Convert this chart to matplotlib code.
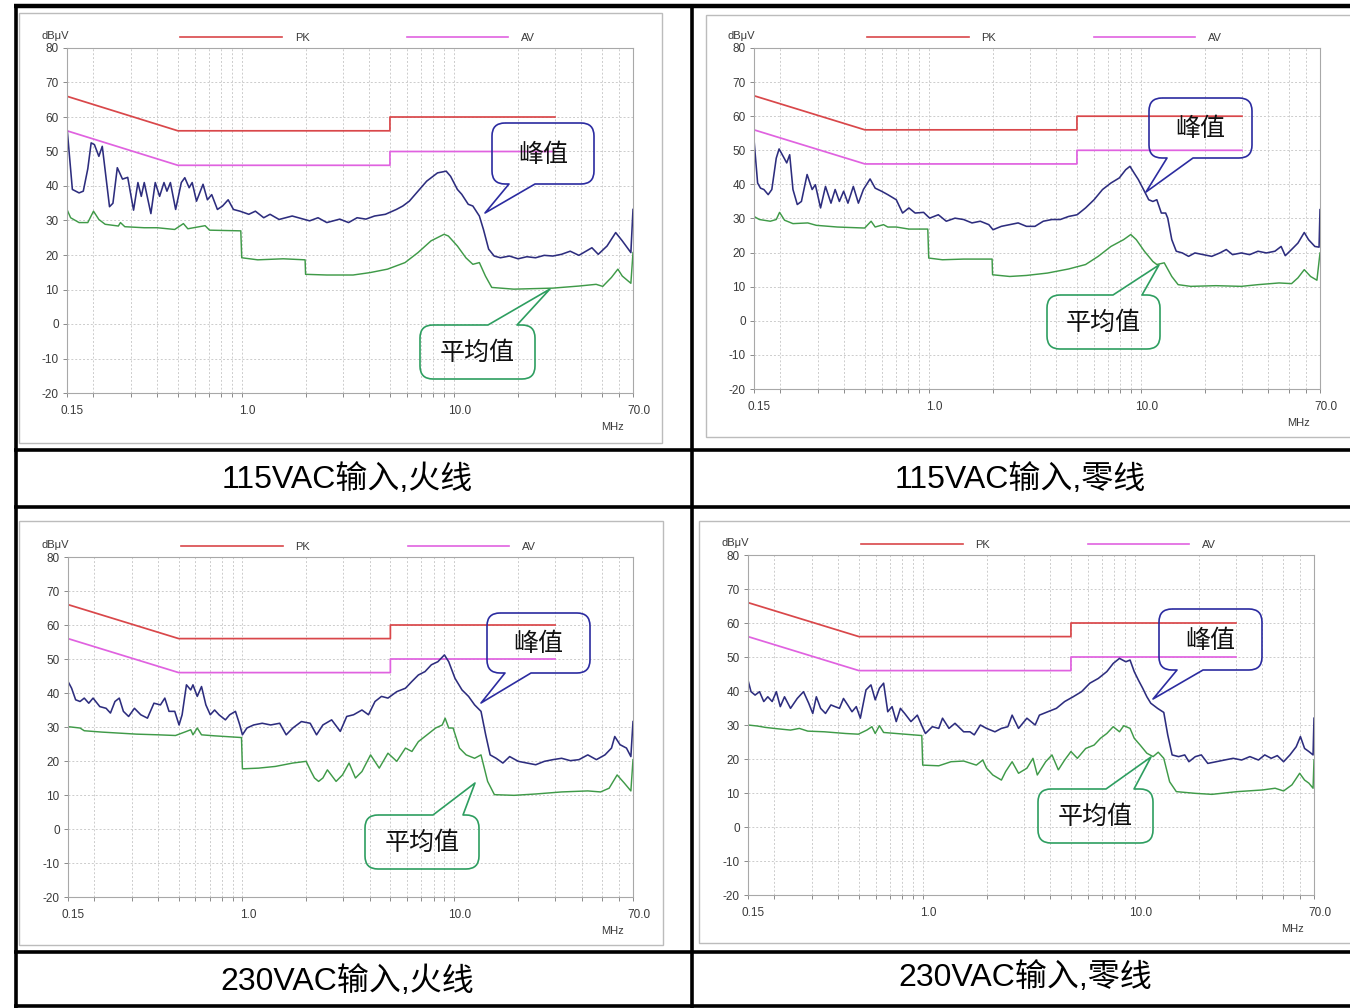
import matplotlib
matplotlib.use('Agg')
import matplotlib.pyplot as plt
from matplotlib.path import Path
from matplotlib.patches import PathPatch, Rectangle
from matplotlib.ticker import FixedLocator, FixedFormatter, NullFormatter
import matplotlib.transforms as mtransforms

plt.rcParams['font.family'] = ['Liberation Sans', 'Noto Sans CJK SC', 'DejaVu Sans']
plt.rcParams['axes.unicode_minus'] = False

# --- limit lines (CISPR class B) ---
limit_freq = [0.15, 0.5, 5.0, 5.0, 30.0]
pk_limit = [66, 56, 56, 60, 60]
av_limit = [56, 46, 46, 50, 50]

y_ticks = [-20, -10, 0, 10, 20, 30, 40, 50, 60, 70, 80]
x_major = [0.15, 1.0, 10.0, 70.0]
x_major_labels = ['0.15', '1.0', '10.0', '70.0']
x_minor = [0.2, 0.3, 0.4, 0.5, 0.6, 0.7, 0.8, 0.9, 2, 3, 4, 5, 6, 7, 8, 9,
           20, 30, 40, 50, 60]

captions = ['115VAC输入,火线', '115VAC输入,零线', '230VAC输入,火线', '230VAC输入,零线']

# --- 115VAC line ---
l115_pk_f = [0.150, 0.159, 0.171, 0.179, 0.188, 0.195, 0.202, 0.212, 0.220, 0.238,
             0.247, 0.259, 0.274, 0.290, 0.309, 0.324, 0.336, 0.347, 0.373, 0.391,
             0.410, 0.430, 0.444, 0.461, 0.488, 0.519, 0.539, 0.565, 0.584, 0.612,
             0.657, 0.689, 0.722, 0.768, 0.812, 0.863, 0.914, 0.981, 1.08, 1.16,
             1.27, 1.36, 1.50, 1.73, 2.09, 2.29, 2.52, 2.90, 3.19, 3.50,
             3.85, 4.23, 4.76, 5.36, 5.75, 6.17, 6.78, 7.45, 8.38, 9.21,
             9.66, 10.4, 10.9, 11.7, 12.3, 13.2, 13.8, 14.6, 15.5, 16.6,
             18.3, 20.1, 22.1, 24.3, 26.7, 29.3, 32.2, 35.4, 38.9, 44.8,
             48.0, 52.8, 58.0, 62.3, 68.4, 70.0]
l115_pk_db = [57, 39, 38, 38.5, 45, 52.5, 52, 48.6, 51.5, 34,
              35, 45.3, 42, 42.5, 33, 41, 37, 41, 32, 41,
              37, 41, 38.5, 41, 33.2, 41, 42.4, 39.5, 41, 35.6,
              40.5, 36, 37.5, 33.2, 34.2, 36, 33.2, 32.7, 31.8, 32.7,
              30.8, 31.8, 30.3, 31.3, 29.9, 30.8, 29.4, 30.4, 29.4, 30.8,
              30.4, 31.3, 31.8, 33.2, 34.2, 35.6, 38.5, 41.4, 43.8, 44.3,
              42.8, 39, 37.6, 34.7, 34.2, 31.3, 27.4, 21.7, 19.7, 19.2,
              19.7, 18.9, 19.5, 19.2, 19.9, 19.7, 20.2, 21.1, 19.9, 22.1,
              20.2, 22.6, 26.5, 24.1, 20.7, 33.2]
l115_av_f = [0.150, 0.156, 0.171, 0.188, 0.200, 0.212, 0.227, 0.262, 0.268, 0.281,
             0.347, 0.400, 0.483, 0.531, 0.557, 0.672, 0.705, 0.990, 1.00, 1.19,
             1.57, 1.99, 2.00, 2.52, 3.35, 4.03, 4.87, 5.89, 6.78, 7.81,
             9.00, 9.43, 10.4, 11.4, 12.3, 13.2, 14.1, 15.1, 19.2, 29.3,
             38.9, 46.9, 50.4, 55.4, 59.4, 62.3, 68.4, 70.0]
l115_av_db = [33.2, 30.8, 29.4, 29.4, 32.7, 30.3, 28.9, 28.4, 29.4, 28.2,
              27.9, 27.9, 27.4, 29.1, 27.6, 28.5, 27.2, 27.0, 19.2, 18.6,
              18.9, 18.6, 14.4, 14.2, 14.2, 14.9, 15.9, 17.8, 20.7, 24.1,
              26.0, 25.5, 22.6, 19.2, 17.3, 17.8, 13.9, 10.6, 10.1, 10.4,
              11.0, 11.5, 10.9, 13.5, 15.9, 13.9, 11.8, 20.7]

# --- 115VAC neutral ---
n115_pk_f = [0.150, 0.156, 0.161, 0.167, 0.175, 0.182, 0.191, 0.197, 0.206, 0.214,
             0.221, 0.229, 0.240, 0.251, 0.267, 0.282, 0.292, 0.309, 0.326, 0.346,
             0.362, 0.379, 0.397, 0.416, 0.441, 0.466, 0.492, 0.529, 0.559, 0.599,
             0.641, 0.703, 0.753, 0.806, 0.863, 0.946, 1.01, 1.11, 1.21, 1.33,
             1.46, 1.60, 1.75, 1.92, 2.01, 2.20, 2.41, 2.64, 2.89, 3.17,
             3.47, 3.81, 4.17, 4.57, 5.01, 5.49, 6.02, 6.60, 7.23, 7.92,
             8.49, 8.89, 9.31, 9.74, 10.4, 10.9, 11.4, 11.9, 12.5, 13.1,
             13.4, 14.0, 14.7, 15.7, 16.8, 18.0, 19.7, 21.6, 23.6, 25.3,
             27.1, 29.8, 32.6, 35.7, 39.1, 42.9, 45.9, 48.0, 51.4, 55.1,
             59.0, 61.8, 66.2, 69.3, 70.0]
n115_pk_db = [53.1, 40.4, 38.9, 38.5, 37.0, 38.5, 47.7, 50.4, 48.2, 46.3,
              48.7, 38.5, 34.1, 35.0, 42.9, 38.5, 39.9, 33.1, 39.4, 34.5,
              38.5, 35.0, 38.0, 34.5, 39.4, 34.5, 38.5, 41.6, 38.9, 38.0,
              37.0, 35.5, 31.6, 33.1, 31.6, 31.8, 30.1, 31.1, 29.2, 30.1,
              29.7, 28.7, 29.2, 28.2, 26.7, 27.7, 28.2, 28.7, 27.7, 27.7,
              29.2, 29.7, 29.7, 30.6, 31.1, 33.1, 35.5, 38.5, 40.4, 41.9,
              44.3, 45.3, 43.3, 41.4, 38.0, 35.5, 35.0, 35.5, 31.6, 31.6,
              30.1, 23.8, 20.4, 19.9, 18.9, 19.9, 19.4, 18.9, 19.9, 20.9,
              19.4, 19.9, 19.4, 20.4, 19.9, 20.4, 21.8, 19.1, 20.9, 22.8,
              25.9, 23.8, 21.8, 21.6, 32.6]
n115_av_f = [0.150, 0.159, 0.179, 0.191, 0.198, 0.209, 0.229, 0.269, 0.295, 0.371,
             0.499, 0.535, 0.559, 0.612, 0.641, 0.703, 0.806, 0.99, 1.00, 1.16,
             1.46, 1.99, 2.00, 2.41, 2.89, 3.63, 4.57, 5.49, 6.30, 7.23,
             8.30, 8.97, 9.52, 10.4, 11.4, 11.9, 12.9, 14.0, 15.0, 17.2,
             22.6, 29.8, 35.7, 44.9, 51.4, 55.1, 59.0, 63.2, 67.7, 70.0]
n115_av_db = [30.6, 29.7, 29.2, 29.7, 31.8, 29.5, 28.5, 28.7, 28.0, 27.5,
              27.2, 29.2, 27.5, 28.2, 27.5, 27.5, 26.9, 26.9, 18.4, 17.9,
              18.1, 18.1, 13.5, 13.0, 13.3, 14.0, 15.2, 16.5, 18.9, 21.8,
              23.8, 25.3, 23.8, 20.4, 17.4, 16.5, 17.0, 13.0, 10.6, 10.1,
              10.3, 10.1, 10.6, 11.1, 10.9, 12.6, 15.0, 13.0, 11.9, 19.9]

# --- 230VAC line ---
l230_pk_f = [0.150, 0.156, 0.163, 0.171, 0.179, 0.188, 0.197, 0.212, 0.227, 0.238,
             0.250, 0.262, 0.274, 0.290, 0.309, 0.331, 0.356, 0.382, 0.410, 0.430,
             0.450, 0.479, 0.502, 0.519, 0.544, 0.570, 0.584, 0.612, 0.641, 0.672,
             0.705, 0.739, 0.775, 0.831, 0.871, 0.927, 0.972, 1.00, 1.05, 1.13,
             1.24, 1.36, 1.50, 1.61, 1.73, 1.90, 2.09, 2.24, 2.40, 2.64,
             2.90, 3.11, 3.35, 3.67, 3.94, 4.23, 4.54, 4.87, 5.36, 5.89,
             6.32, 6.78, 7.29, 7.81, 8.38, 9.00, 9.43, 10.1, 10.9, 11.7,
             12.5, 13.4, 14.1, 14.8, 15.8, 17.0, 18.3, 20.1, 22.1, 24.3,
             26.7, 29.3, 32.2, 35.4, 38.9, 42.8, 47.0, 51.6, 55.4, 57.4,
             60.8, 65.2, 68.4, 70.0]
l230_pk_db = [43.4, 41.4, 38.0, 37.5, 38.5, 37.0, 38.5, 36.0, 35.5, 34.1,
              37.5, 38.5, 34.6, 33.1, 35.5, 33.6, 32.6, 37.0, 36.5, 38.5,
              34.6, 34.6, 30.6, 33.6, 42.4, 40.9, 42.4, 39.0, 41.9, 36.5,
              33.6, 35.0, 33.6, 32.1, 33.6, 34.6, 30.6, 27.7, 29.7, 30.6,
              31.1, 30.6, 31.1, 27.7, 29.7, 31.6, 31.1, 27.7, 30.6, 32.1,
              28.7, 33.1, 33.6, 35.0, 33.6, 37.5, 39.0, 38.5, 40.4, 41.4,
              43.4, 45.3, 46.3, 48.3, 49.2, 51.2, 49.2, 44.3, 40.9, 39.0,
              36.5, 34.6, 27.7, 21.8, 20.8, 19.4, 21.3, 19.9, 19.4, 18.9,
              19.9, 20.4, 20.8, 20.1, 20.4, 21.8, 20.4, 21.8, 23.8, 27.2,
              24.8, 23.8, 21.3, 31.6]
l230_av_f = [0.150, 0.171, 0.179, 0.217, 0.262, 0.316, 0.400, 0.483, 0.544, 0.570,
             0.584, 0.612, 0.641, 0.739, 0.99, 1.00, 1.19, 1.43, 1.73, 2.00,
             2.11, 2.19, 2.29, 2.40, 2.52, 2.77, 2.97, 3.19, 3.42, 3.67,
             4.03, 4.43, 4.87, 5.36, 5.89, 6.32, 6.78, 7.45, 8.18, 8.79,
             9.07, 9.43, 9.89, 10.6, 11.4, 12.5, 13.4, 14.4, 15.5, 19.2,
             24.3, 32.2, 42.8, 49.2, 54.0, 58.9, 63.7, 68.4, 70.0]
l230_av_db = [30.1, 29.7, 28.9, 28.5, 28.2, 27.9, 27.7, 27.5, 28.7, 29.2,
              27.7, 29.7, 27.7, 27.4, 26.9, 17.7, 17.9, 18.4, 19.4, 19.9,
              16.9, 15.0, 14.0, 15.0, 17.4, 14.0, 15.9, 19.4, 15.0, 16.9,
              21.8, 17.9, 22.3, 19.9, 23.8, 22.8, 25.7, 27.7, 29.7, 30.6,
              32.6, 29.7, 29.7, 23.8, 21.8, 20.8, 21.8, 14.0, 10.1, 9.9,
              10.3, 10.9, 11.2, 10.9, 12.0, 15.9, 13.5, 11.2, 20.4]

# --- 230VAC neutral ---
n230_pk_f = [0.150, 0.155, 0.162, 0.170, 0.178, 0.186, 0.195, 0.204, 0.213, 0.223,
             0.238, 0.256, 0.274, 0.290, 0.303, 0.315, 0.330, 0.348, 0.369, 0.386,
             0.405, 0.423, 0.443, 0.464, 0.486, 0.508, 0.540, 0.570, 0.597, 0.625,
             0.654, 0.684, 0.717, 0.750, 0.785, 0.822, 0.880, 0.943, 0.987, 1.03,
             1.11, 1.19, 1.24, 1.33, 1.42, 1.56, 1.67, 1.75, 1.87, 2.00,
             2.19, 2.35, 2.52, 2.64, 2.83, 3.10, 3.39, 3.55, 3.89, 4.27,
             4.67, 5.12, 5.61, 6.14, 6.73, 7.38, 7.91, 8.47, 9.07, 9.50,
             9.94, 10.4, 10.9, 11.4, 11.9, 12.8, 13.7, 14.3, 15.0, 16.1,
             17.2, 18.0, 19.3, 20.6, 22.1, 24.2, 26.5, 29.1, 31.9, 34.9,
             38.3, 41.0, 44.0, 47.0, 50.3, 53.9, 57.7, 60.4, 63.2, 66.2,
             69.3, 70.0]
n230_pk_db = [43.2, 39.8, 38.8, 39.8, 36.9, 38.3, 36.9, 39.8, 35.4, 38.3,
              34.9, 37.8, 39.8, 36.4, 33.4, 38.3, 34.9, 33.4, 35.9, 35.4,
              34.9, 37.8, 35.9, 33.9, 35.4, 32.0, 40.3, 41.8, 37.4, 40.8,
              42.3, 33.9, 35.4, 31.0, 34.9, 33.4, 31.0, 32.9, 30.0, 27.5,
              29.5, 29.0, 32.0, 29.0, 30.5, 28.0, 28.0, 27.1, 30.0, 29.0,
              28.0, 29.0, 29.5, 32.9, 29.0, 32.0, 30.0, 32.9, 33.9, 34.9,
              36.9, 38.3, 39.8, 42.3, 43.7, 45.7, 48.1, 49.6, 48.6, 49.1,
              45.7, 43.2, 40.8, 38.3, 36.4, 34.9, 33.7, 27.1, 21.2, 20.7,
              21.2, 19.2, 20.7, 21.2, 18.7, 19.2, 19.7, 20.2, 19.7, 20.7,
              19.7, 21.2, 20.2, 21.0, 19.2, 21.2, 23.6, 26.6, 23.1, 22.2,
              21.2, 32.0]
n230_av_f = [0.150, 0.166, 0.181, 0.199, 0.238, 0.262, 0.287, 0.344, 0.433, 0.497,
             0.545, 0.576, 0.597, 0.625, 0.654, 0.785, 0.99, 1.00, 1.19, 1.36,
             1.56, 1.79, 1.92, 2.00, 2.14, 2.35, 2.46, 2.64, 2.83, 3.10,
             3.31, 3.47, 3.80, 4.07, 4.36, 4.67, 5.00, 5.36, 5.87, 6.43,
             6.89, 7.38, 7.91, 8.47, 8.87, 9.50, 9.94, 10.6, 11.4, 12.2,
             12.9, 13.7, 14.6, 15.7, 19.3, 23.1, 30.4, 40.1, 45.9, 50.3,
             55.1, 59.9, 63.2, 66.2, 69.3, 70.0]
n230_av_db = [30.0, 29.7, 29.3, 29.0, 28.5, 29.0, 28.2, 28.0, 27.5, 27.3,
              28.5, 29.5, 27.5, 29.8, 27.8, 27.4, 26.9, 18.2, 18.0, 19.2,
              19.4, 18.2, 19.7, 17.3, 15.3, 13.8, 16.3, 19.2, 15.8, 17.3,
              20.2, 15.3, 19.2, 21.2, 16.8, 19.7, 22.2, 20.2, 23.1, 24.1,
              26.1, 27.5, 29.5, 28.0, 29.8, 29.0, 26.1, 24.1, 21.7, 20.7,
              22.0, 20.2, 13.3, 10.4, 9.9, 9.6, 10.4, 10.9, 11.4, 10.6,
              12.4, 15.8, 13.8, 12.9, 11.4, 19.7]

# layout in pixels (x0, y0, x1, y1), y downward
W, H = 1350, 1008
panels = [
    dict(frame=(19, 13, 662, 443), box=(67, 48, 633, 393), cap=(347, 480),
         pk=(l115_pk_f, l115_pk_db), av=(l115_av_f, l115_av_db),
         b1=((492, 123, 594, 184), (509, 535), (485, 213), 'bottom'),
         b2=((420, 325, 535, 379), (488, 517), (550, 289), 'top')),
    dict(frame=(706, 15, 1360, 437), box=(754, 48, 1320, 389), cap=(1020, 480),
         pk=(n115_pk_f, n115_pk_db), av=(n115_av_f, n115_av_db),
         b1=((1149, 98, 1252, 158), (1167, 1193), (1146, 192), 'bottom'),
         b2=((1047, 295, 1160, 349), (1113, 1142), (1159, 265), 'top')),
    dict(frame=(19, 521, 663, 945), box=(68, 557, 633, 897), cap=(347, 982),
         pk=(l230_pk_f, l230_pk_db), av=(l230_av_f, l230_av_db),
         b1=((487, 613, 590, 673), (505, 531), (481, 703), 'bottom'),
         b2=((365, 815, 479, 869), (433, 463), (475, 783), 'top')),
    dict(frame=(699, 521, 1360, 943), box=(748, 555, 1314, 895), cap=(1025, 978),
         pk=(n230_pk_f, n230_pk_db), av=(n230_av_f, n230_av_db),
         b1=((1159, 609, 1262, 670), (1177, 1203), (1153, 699), 'bottom'),
         b2=((1038, 789, 1153, 843), (1106, 1134), (1151, 757), 'top')),
]


def px_rect(x0, y0, x1, y1):
    return [x0 / W, 1 - y1 / H, (x1 - x0) / W, (y1 - y0) / H]


def bubble(ax, rect, base, tip, side, color):
    x0, y0, x1, y1 = rect
    r = 13
    v = [(x0 + r, y0)]
    c = [Path.MOVETO]
    if side == 'top':
        v += [(base[0], y0), tip, (base[1], y0)]
        c += [Path.LINETO] * 3
    v += [(x1 - r, y0), (x1, y0), (x1, y0 + r), (x1, y1 - r), (x1, y1), (x1 - r, y1)]
    c += [Path.LINETO, Path.CURVE3, Path.CURVE3, Path.LINETO, Path.CURVE3, Path.CURVE3]
    if side == 'bottom':
        v += [(base[1], y1), tip, (base[0], y1)]
        c += [Path.LINETO] * 3
    v += [(x0 + r, y1), (x0, y1), (x0, y1 - r), (x0, y0 + r), (x0, y0), (x0 + r, y0)]
    c += [Path.LINETO, Path.CURVE3, Path.CURVE3, Path.LINETO, Path.CURVE3, Path.CURVE3]
    ax.add_patch(PathPatch(Path(v, c), facecolor='none', edgecolor=color, lw=1.2,
                           joinstyle='round'))


fig = plt.figure(figsize=(W / 100, H / 100), dpi=100)
bg = fig.add_axes([0, 0, 1, 1], zorder=0)
bg.set_xlim(0, W)
bg.set_ylim(H, 0)
bg.axis('off')
top = fig.add_axes([0, 0, 1, 1], zorder=5)
top.set_xlim(0, W)
top.set_ylim(H, 0)
top.axis('off')
top.patch.set_alpha(0)

txt_col = '#3a3a3a'
shift = mtransforms.ScaledTranslation(4 / 72, 0, fig.dpi_scale_trans)

for i, p in enumerate(panels):
    fx0, fy0, fx1, fy1 = p['frame']
    bg.add_patch(Rectangle((fx0, fy0), fx1 - fx0, fy1 - fy0, facecolor='white',
                           edgecolor='#bcbcbc', lw=1.0))
    x0, y0, x1, y1 = p['box']
    ax = fig.add_axes(px_rect(x0, y0, x1, y1), zorder=1)
    ax.patch.set_alpha(0)
    ax.set_xscale('log')
    ax.set_xlim(0.15, 70)
    ax.set_ylim(-20, 80)
    ax.xaxis.set_major_locator(FixedLocator(x_major))
    ax.xaxis.set_major_formatter(FixedFormatter(x_major_labels))
    ax.xaxis.set_minor_locator(FixedLocator(x_minor))
    ax.xaxis.set_minor_formatter(NullFormatter())
    ax.set_yticks(y_ticks)
    ax.tick_params(axis='both', which='both', colors='#8a8a8a', labelcolor=txt_col,
                   labelsize=8.5, length=3, width=0.7)
    ax.tick_params(axis='x', which='both', pad=6)
    ax.tick_params(axis='y', pad=3)
    for lab in ax.get_xticklabels():
        lab.set_transform(lab.get_transform() + shift)
    ax.grid(True, which='both', axis='x', color='#cccccc', lw=0.7, ls=(0, (2, 2)))
    ax.grid(True, which='major', axis='y', color='#cccccc', lw=0.7, ls=(0, (2, 2)))
    for s in ax.spines.values():
        s.set_color('#a8a8a8')
        s.set_linewidth(0.8)

    ax.plot(limit_freq, pk_limit, color='#d9474a', lw=1.25)
    ax.plot(limit_freq, av_limit, color='#e062e0', lw=1.25)
    ax.plot(p['av'][0], p['av'][1], color='#3f9a48', lw=1.05)
    ax.plot(p['pk'][0], p['pk'][1], color='#2d2d7e', lw=1.15)

    # header text and legend
    bg.text(x0 - 26, y0 - 12, 'dBμV', fontsize=8, color=txt_col, va='center')
    bg.plot([x0 + 113, x0 + 215], [y0 - 11, y0 - 11], color='#d9474a', lw=1.2)
    bg.text(x0 + 235, y0 - 10, 'PK', fontsize=8, color=txt_col, ha='center', va='center')
    bg.plot([x0 + 340, x0 + 441], [y0 - 11, y0 - 11], color='#e062e0', lw=1.2)
    bg.text(x0 + 461, y0 - 10, 'AV', fontsize=8, color=txt_col, ha='center', va='center')
    bg.text(x1 - 21, y1 + 34, 'MHz', fontsize=8, color=txt_col, ha='center', va='center')

    # callouts
    for key, label, col in (('b1', '峰值', '#2b2ba0'), ('b2', '平均值', '#2e9e60')):
        rect, base, tip, side = p[key]
        bubble(top, rect, base, tip, side, col)
        top.text((rect[0] + rect[2]) / 2, (rect[1] + rect[3]) / 2 + 1, label,
                 fontsize=18, ha='center', va='center', color='#111111',
                 family=['Noto Sans CJK SC'])

    cx, cy = p['cap']
    top.text(cx, cy, captions[i], fontsize=23, ha='center', va='center', color='black')

# table lines
lw_t = 2.6
top.plot([14, W], [6, 6], color='black', lw=3.2, solid_capstyle='butt')
top.plot([16, 16], [4, H], color='black', lw=lw_t, solid_capstyle='butt')
top.plot([692, 692], [4, H], color='black', lw=lw_t, solid_capstyle='butt')
for yy in (450, 507, 952, 1006):
    top.plot([14, W], [yy, yy], color='black', lw=lw_t, solid_capstyle='butt')

fig.savefig('out.png', dpi=100, facecolor='white')
